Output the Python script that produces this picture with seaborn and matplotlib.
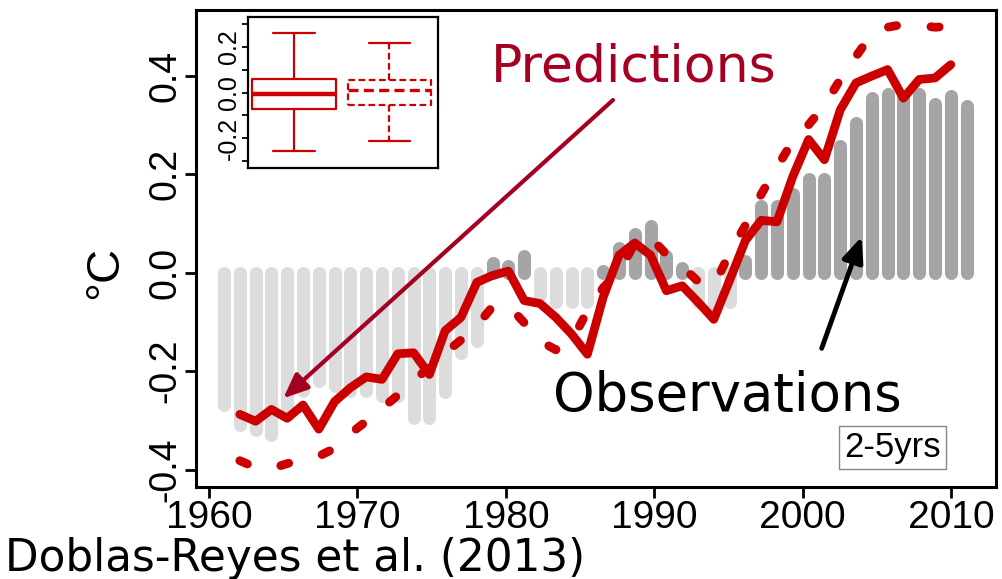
import numpy as np
import pandas as pd
import matplotlib
matplotlib.use("Agg")
import matplotlib.pyplot as plt
import seaborn as sns

# ---------------- data ----------------
# observations (2-5 yr means), one bar per start year
bar_years = list(range(1961, 2009))
bar_values = [-0.27, -0.31, -0.32, -0.33, -0.285, -0.24, -0.22, -0.23, -0.24, -0.24,
              -0.25, -0.25, -0.295, -0.295, -0.243, -0.163, -0.14, 0.019, 0.014, 0.033,
              -0.045, -0.06, -0.06, -0.06, 0.003, 0.05, 0.078, 0.094, 0.033, 0.01,
              -0.06, -0.065, -0.06, 0.023, 0.135, 0.135, 0.16, 0.19, 0.19, 0.257,
              0.304, 0.355, 0.363, 0.355, 0.363, 0.343, 0.359, 0.339]

# predictions
pred_years = list(range(1962, 2008))
pred_solid = [-0.288, -0.302, -0.278, -0.296, -0.269, -0.318, -0.262, -0.234, -0.212, -0.217,
              -0.165, -0.163, -0.207, -0.118, -0.091, -0.02, -0.006, 0.003, -0.057, -0.063,
              -0.091, -0.125, -0.166, -0.05, 0.035, 0.06, 0.035, -0.037, -0.027, -0.06,
              -0.095, -0.016, 0.065, 0.106, 0.103, 0.195, 0.27, 0.229, 0.33, 0.385,
              0.399, 0.412, 0.354, 0.392, 0.395, 0.422]
pred_dashed = [-0.382, -0.396, -0.398, -0.388, -0.38, -0.373, -0.357, -0.327, -0.302, -0.276,
               -0.249, -0.22, -0.192, -0.163, -0.137, -0.108, -0.069, -0.067, -0.102, -0.139,
               -0.157, -0.139, -0.078, -0.031, 0.002, 0.059, 0.071, 0.037, 0.012, -0.018,
               -0.027, 0.039, 0.096, 0.159, 0.214, 0.267, 0.3, 0.339, 0.392, 0.439,
               0.484, 0.498, 0.504, 0.502, 0.498, 0.5]

# inset boxplots: whisker low, Q1, median, Q3, whisker high
box_groups = ["solid", "dashed"]
box_solid = [-0.256, -0.071, -0.006, 0.058, 0.258]
box_dashed = [-0.213, -0.053, 0.012, 0.055, 0.217]

x_ticks = [1960, 1970, 1980, 1990, 2000, 2010]
y_ticks = [-0.4, -0.2, 0.0, 0.2, 0.4]
inset_ticks = [-0.3, -0.2, -0.1, 0.0, 0.1, 0.2, 0.3]
inset_labels = ["", "-0.2", "", "0.0", "", "0.2", ""]

# ---------------- style ----------------
sns.set_theme(style="ticks")
plt.rcParams["font.family"] = ["Liberation Sans", "DejaVu Sans"]
plt.rcParams["text.color"] = "black"
plt.rcParams["axes.labelcolor"] = "black"
plt.rcParams["xtick.color"] = "black"
plt.rcParams["ytick.color"] = "black"
plt.rcParams["xtick.labelcolor"] = "black"
plt.rcParams["ytick.labelcolor"] = "black"

RED = "#cc0000"
DARKRED = "#a50021"
LIGHT = "#dcdcdc"
DARK = "#a5a5a5"

fig = plt.figure(figsize=(10.02, 5.79), dpi=100)
W, H = 1002, 579
ax = fig.add_axes([196 / W, 1 - 487 / H, 800 / W, 477 / H])

# main (year) axis
ax.set_xlim(1959.12, 2013.03)
ax.set_ylim(-0.4355, 0.533)
ax.set_xticks(x_ticks)
ax.set_xticklabels([str(v) for v in x_ticks], fontsize=28, color="black")
ax.set_yticks(y_ticks)
ax.set_yticklabels([f"{v:.1f}" for v in y_ticks], fontsize=27, rotation=90,
                   va="center", color="black")
ax.tick_params(axis="both", direction="out", length=8, width=2, color="black", pad=1)
for s in ax.spines.values():
    s.set_visible(True)
    s.set_linewidth(2.2)
    s.set_color("black")
ax.set_facecolor("white")

# data axis (one slot per start year)
ax_d = ax.twiny()
ax_d.set_xlim(1961 - 1.772, 1961 + 48.86)
ax_d.xaxis.set_visible(False)
for s in ax_d.spines.values():
    s.set_visible(False)

bar_cols = [DARK if v > 0 else LIGHT for v in bar_values]
lc = ax_d.vlines(bar_years, 0, bar_values, colors=bar_cols, linewidth=9.4, zorder=1)
lc.set_capstyle("round")

sns.lineplot(x=pred_years, y=pred_dashed, ax=ax_d, color=RED, linewidth=6.3,
             linestyle=(0, (0.95, 3.95)), dash_capstyle="round", zorder=3)
sns.lineplot(x=pred_years, y=pred_solid, ax=ax_d, color=RED, linewidth=6.3,
             solid_capstyle="round", solid_joinstyle="round", zorder=4)
ax_d.set_xlim(1961 - 1.772, 1961 + 48.86)
ax.set_ylim(-0.4355, 0.533)
ax_d.set_ylim(-0.4355, 0.533)
ax_d.set_xlabel("")
ax_d.set_ylabel("")
ax_d.yaxis.set_visible(False)

# arrows (drawn above the data)
ax_d.annotate("", xy=(283.3 / W, 1 - 398.3 / H), xytext=(613 / W, 1 - 100 / H),
              xycoords="figure fraction", textcoords="figure fraction",
              annotation_clip=False, zorder=8,
              arrowprops=dict(arrowstyle="-|>,head_length=0.75,head_width=0.32",
                              color=DARKRED, lw=3, mutation_scale=20,
                              shrinkA=0, shrinkB=0))
ax_d.annotate("", xy=(861.7 / W, 1 - 236.7 / H), xytext=(821.7 / W, 1 - 348.3 / H),
              xycoords="figure fraction", textcoords="figure fraction",
              annotation_clip=False, zorder=8,
              arrowprops=dict(arrowstyle="-|>,head_length=0.75,head_width=0.32",
                              color="black", lw=3.5, mutation_scale=20,
                              shrinkA=0, shrinkB=0))

# ---------------- inset ----------------
axin = fig.add_axes([248.3 / W, 1 - 168.3 / H, 190 / W, 151.6 / H])
df_solid = pd.DataFrame({"g": box_groups[0], "v": box_solid})
df_dashed = pd.DataFrame({"g": box_groups[1], "v": box_dashed})
sns.boxplot(data=df_solid, x="g", y="v", order=box_groups, ax=axin, fill=False,
            color=RED, width=0.874, whis=3, linewidth=1.6,
            medianprops=dict(linewidth=3.2), showfliers=False)
dash = (0, (3, 1.6))
sns.boxplot(data=df_dashed, x="g", y="v", order=box_groups, ax=axin, fill=False,
            color=RED, width=0.874, whis=3, linewidth=1.6,
            boxprops=dict(linestyle=dash), whiskerprops=dict(linestyle=dash),
            medianprops=dict(linestyle=dash, linewidth=2.4), showfliers=False)
axin.set_xlim(-0.48, 1.514)
axin.set_ylim(-0.33, 0.33)
axin.set_yticks(inset_ticks)
axin.set_yticklabels(inset_labels, rotation=90, va="center", fontsize=18, color="black")
axin.set_xticks([])
axin.set_xlabel("")
axin.set_ylabel("")
axin.tick_params(axis="y", direction="out", length=4, width=1.3, pad=1, color="black")
for s in axin.spines.values():
    s.set_visible(True)
    s.set_linewidth(1.6)
    s.set_color("black")
axin.set_facecolor("white")

# ---------------- text ----------------
fig.text(105 / W, 1 - 272 / H, "°C", rotation=90, ha="center", va="center",
         fontsize=34, color="black")
fig.text(491 / W, 1 - 82 / H, "Predictions", color=DARKRED, fontsize=37.5,
         family="DejaVu Sans", ha="left", va="baseline")
fig.text(553 / W, 1 - 411 / H, "Observations", color="black", fontsize=38,
         family="DejaVu Sans", ha="left", va="baseline")
fig.text(5 / W, 1 - 571 / H, "Doblas-Reyes et al. (2013)", color="black", fontsize=31.5,
         family="DejaVu Sans", ha="left", va="baseline")
fig.text(892.5 / W, 1 - 447.5 / H, "2-5yrs", fontsize=25, ha="center", va="center",
         color="black",
         bbox=dict(boxstyle="square,pad=0.15", facecolor="white", edgecolor="#888888",
                   linewidth=1))

fig.savefig("out.png", dpi=100, facecolor="white")
